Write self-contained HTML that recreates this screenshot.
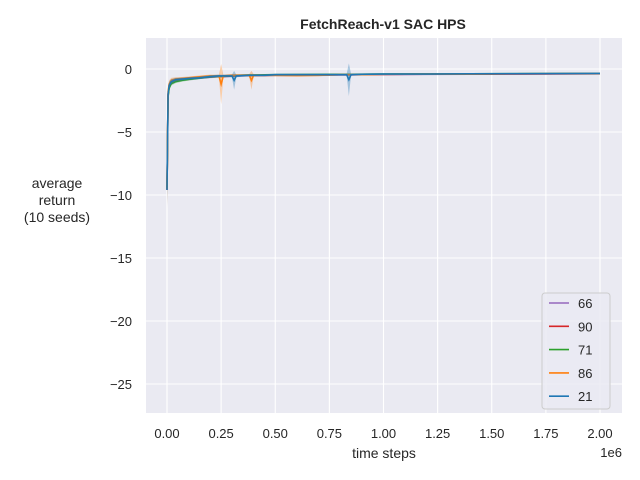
<!DOCTYPE html>
<html><head><meta charset="utf-8"><style>
body{margin:0;background:#fff;}
svg{display:block;font-family:"Liberation Sans","DejaVu Sans",sans-serif;}
</style></head><body>
<svg id="chart" width="640" height="480">
<rect x="146" y="38" width="476" height="375" fill="#eaeaf2"/>
<g id="grid"></g>
<g id="series"></g>
<g id="ticks" font-size="13" fill="#262626"></g>
<text x="383" y="29" text-anchor="middle" font-weight="bold" font-size="14" fill="#262626">FetchReach-v1 SAC HPS</text>
<text x="384" y="458" text-anchor="middle" font-size="14" fill="#262626">time steps</text>
<text x="622" y="457" text-anchor="end" font-size="13" fill="#262626">1e6</text>
<text text-anchor="middle" font-size="14" fill="#262626"><tspan x="57" y="188">average</tspan><tspan x="57" y="205">return</tspan><tspan x="57" y="222">(10 seeds)</tspan></text>
<g id="legend"></g>
</svg>
<script>
const xs=[0,5e3,1e4,2e4,4e4,7e4,1e5,1.5e5,2e5,2.4e5,2.5e5,2.6e5,3e5,3.1e5,3.2e5,3.8e5,3.9e5,4e5,4.5e5,5e5,6e5,7e5,8e5,8.3e5,8.4e5,8.5e5,9e5,1e6,1.2e6,1.4e6,1.6e6,1.8e6,2e6];
const s66=[-9.4,-2.0,-1.4,-1.1,-0.95,-0.85,-0.8,-0.72,-0.65,-0.6,-0.6,-0.6,-0.56,-0.55,-0.55,-0.52,-0.52,-0.52,-0.52,-0.5,-0.5,-0.48,-0.47,-0.47,-0.47,-0.47,-0.45,-0.44,-0.42,-0.41,-0.4,-0.39,-0.38];
const s90=[-9.6,-2.1,-1.4,-1.05,-0.9,-0.82,-0.78,-0.7,-0.62,-0.58,-0.58,-0.58,-0.55,-0.54,-0.53,-0.5,-0.5,-0.5,-0.5,-0.48,-0.47,-0.46,-0.45,-0.45,-0.45,-0.45,-0.43,-0.42,-0.41,-0.4,-0.39,-0.38,-0.37];
const s71=[-9.5,-2.2,-1.5,-1.15,-1.0,-0.9,-0.82,-0.72,-0.62,-0.58,-0.58,-0.57,-0.53,-0.52,-0.51,-0.48,-0.48,-0.48,-0.46,-0.45,-0.44,-0.43,-0.42,-0.42,-0.42,-0.42,-0.41,-0.4,-0.39,-0.38,-0.37,-0.36,-0.35];
const s86=[-9.5,-1.8,-1.2,-0.9,-0.8,-0.75,-0.7,-0.62,-0.55,-0.55,-1.2,-0.55,-0.5,-0.5,-0.5,-0.5,-0.9,-0.5,-0.5,-0.5,-0.52,-0.5,-0.45,-0.45,-0.45,-0.45,-0.45,-0.42,-0.4,-0.4,-0.38,-0.37,-0.36];
const s21=[-9.6,-2.0,-1.3,-1.0,-0.85,-0.8,-0.75,-0.7,-0.6,-0.55,-0.55,-0.55,-0.55,-0.9,-0.55,-0.5,-0.5,-0.5,-0.5,-0.45,-0.45,-0.45,-0.45,-0.45,-0.85,-0.45,-0.42,-0.4,-0.4,-0.38,-0.37,-0.36,-0.35];
const spread86=[1.6,0.5,0.3,0.2,0.15,0.12,0.1,0.1,0.1,0.1,1.6,0.1,0.1,0.1,0.1,0.1,0.75,0.1,0.08,0.08,0.08,0.08,0.08,0.08,0.08,0.08,0.06,0.06,0.05,0.05,0.05,0.05,0.05];
const spread21=[1.4,0.5,0.3,0.2,0.15,0.12,0.1,0.1,0.1,0.1,0.1,0.1,0.1,0.75,0.1,0.08,0.08,0.08,0.08,0.08,0.08,0.08,0.08,0.08,1.3,0.08,0.06,0.06,0.05,0.05,0.05,0.05,0.05];
const spreadBase=[1.2,0.4,0.25,0.15,0.12,0.1,0.1,0.08,0.08,0.08,0.08,0.08,0.08,0.08,0.08,0.08,0.08,0.08,0.06,0.06,0.06,0.06,0.06,0.06,0.06,0.06,0.05,0.05,0.05,0.05,0.05,0.05,0.05];
const xticks=[0,0.25e6,0.5e6,0.75e6,1e6,1.25e6,1.5e6,1.75e6,2e6];
const xtickLabels=["0.00","0.25","0.50","0.75","1.00","1.25","1.50","1.75","2.00"];
const yticks=[0,-5,-10,-15,-20,-25];
const legendNames=["66","90","71","86","21"];
const colors=["#9467bd","#d62728","#2ca02c","#ff7f0e","#1f77b4"];
const X=v=>167+v*(433/2e6), Y=v=>69-v*12.6;
const NS="http://www.w3.org/2000/svg";
function mk(t,a,p){const e=document.createElementNS(NS,t);for(const k in a)e.setAttribute(k,a[k]);p.appendChild(e);return e;}
const grid=document.getElementById('grid'),ticks=document.getElementById('ticks'),ser=document.getElementById('series'),leg=document.getElementById('legend');
xticks.forEach((t,i)=>{const l=mk('line',{x1:X(t),x2:X(t),y1:38,y2:413,stroke:'#fff','stroke-width':1.1},grid);


const tx=mk('text',{x:X(t),y:438,'text-anchor':'middle'},ticks);tx.textContent=xtickLabels[i];

});
yticks.forEach(t=>{const l=mk('line',{x1:146,x2:622,y1:Y(t),y2:Y(t),stroke:'#fff','stroke-width':1.1},grid);


const tx=mk('text',{x:132,y:Y(t)+5,'text-anchor':'end'},ticks);tx.textContent=String(t).replace('-','−');

});
const data=[s66,s90,s71,s86,s21];
const spreads=[spreadBase,spreadBase,spreadBase,spread86,spread21];
data.forEach((s,k)=>{
 const sp=spreads[k];
 let up=xs.map((x,i)=>X(x)+','+Y(s[i]+sp[i])).join(' ');
 let dn=xs.map((x,i)=>X(x)+','+Y(s[i]-sp[i])).reverse().join(' ');
 const band=mk('polygon',{points:up+' '+dn,fill:colors[k],'fill-opacity':0.35},ser);
 
 
 const pl=mk('polyline',{points:xs.map((x,i)=>X(x)+','+Y(s[i])).join(' '),fill:'none',stroke:colors[k],'stroke-width':1.6},ser);
 
 
});
const box=mk('rect',{x:542,y:293,width:68,height:116,rx:3,fill:'#eaeaf2','fill-opacity':0.8,stroke:'#ccc'},leg);


legendNames.forEach((n,i)=>{const y=303+i*23.3;
 const g=mk('g',{},leg);
 
 
 mk('line',{x1:549,x2:569,y1:y,y2:y,stroke:colors[i],'stroke-width':1.6},g);
 const t=mk('text',{x:578,y:y+5,'font-size':13,fill:'#262626'},g);t.textContent=n;});
</script>
</body></html>
